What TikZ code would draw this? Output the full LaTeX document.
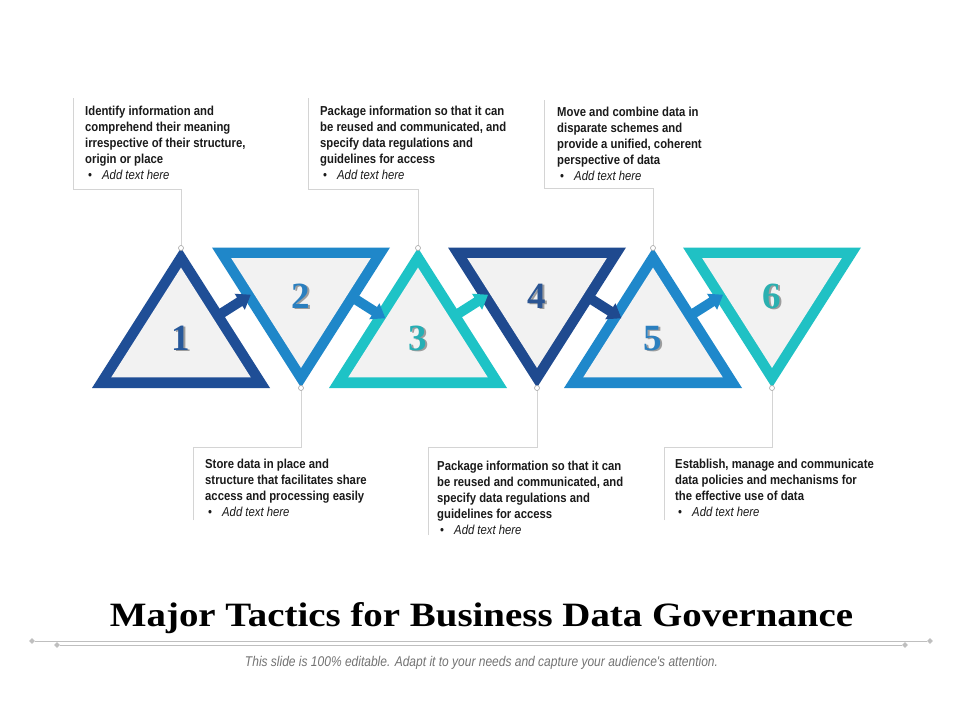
\documentclass[tikz,border=0pt]{standalone}
\usepackage{fontspec}
\usepackage{graphicx}
\usetikzlibrary{shapes.geometric}
\setmainfont{Liberation Sans}
\newfontfamily\narrowfont[FakeStretch=0.87]{Liberation Sans}
\newfontfamily\subfont[FakeStretch=0.85]{Liberation Sans}
\newfontfamily\serifnum{Liberation Serif}
\definecolor{c1}{HTML}{1F4E96}
\definecolor{c2}{HTML}{1F87C9}
\definecolor{c3}{HTML}{1EC3C6}
\definecolor{c4}{HTML}{1F4A8F}
\definecolor{c5}{HTML}{1F88CB}
\definecolor{c6}{HTML}{20C1C4}
\definecolor{n1}{HTML}{27589A}
\definecolor{n2}{HTML}{2A7FBF}
\definecolor{n3}{HTML}{25AFB5}
\definecolor{n4}{HTML}{2B5593}
\definecolor{n5}{HTML}{2B7FBF}
\definecolor{n6}{HTML}{2BB0B0}
\definecolor{innergray}{HTML}{F2F2F2}
\definecolor{calloutgray}{HTML}{D4D4D4}
\definecolor{decogray}{HTML}{BFBFBF}
\definecolor{bodytext}{HTML}{1A1A1A}
\newcommand\bulline{\hspace*{3pt}\makebox[14pt][l]{\mdseries\textbullet}{\mdseries\itshape Add text here}}
\begin{document}
\begin{tikzpicture}[x=1pt,y=-1pt,
  desc/.style={anchor=north west,inner sep=0pt,align=left,text=bodytext,
    font=\fontsize{13}{16}\selectfont\narrowfont\bfseries},
  numtxt/.style={anchor=base,inner sep=0pt,font=\fontsize{37}{40}\selectfont\serifnum\bfseries},
  numshadow/.style={numtxt,text=black,opacity=0.35},
  callout/.style={draw=calloutgray,line width=0.9pt},
  pin/.style={circle,draw=black!35,fill=white,line width=0.6pt,inner sep=0pt,minimum size=5pt},
  deco/.style={draw=decogray,line width=1pt},
  diam/.style={diamond,fill=decogray,inner sep=0pt,minimum size=6pt},
  barrow/.pic={\fill (-2,-5)--(21,-5)--(21,-9.5)--(34,0)--(21,9.5)--(21,5)--(-2,5)--cycle;}
]
\useasboundingbox (0,0) rectangle (960,720);
\fill[white] (0,0) rectangle (960,720);

% ---- triangles (up: 1,3,5 ; down: 2,4,6)
\foreach \cx/\col in {181/c1,418/c3,653/c5}{
  \begin{scope}[shift={(\cx,339.1)}]
    \fill[\col] (-89,48.9) -- (0,-91.1) -- (89,48.9) -- cycle;
    \fill[innergray,scale=0.785] (-89,48.9) -- (0,-91.1) -- (89,48.9) -- cycle;
  \end{scope}
}
\foreach \cx/\col in {301/c2,537/c4,772/c6}{
  \begin{scope}[shift={(\cx,296.4)}]
    \fill[\col] (-89,-48.9) -- (89,-48.9) -- (0,91.1) -- cycle;
    \fill[innergray,scale=0.785] (-89,-48.9) -- (89,-48.9) -- (0,91.1) -- cycle;
  \end{scope}
}

% ---- block arrows between triangles
\pic[color=c1,rotate=32.4] at (222,313) {barrow};
\pic[color=c2,rotate=-32.4] at (356.6,300) {barrow};
\pic[color=c3,rotate=32.4] at (459.3,313) {barrow};
\pic[color=c4,rotate=-32.4] at (592.6,300) {barrow};
\pic[color=c5,rotate=32.4] at (694.3,313) {barrow};

% ---- numbers
\foreach \x/\y/\t/\c in {181/350/1/n1,301/308/2/n2,418/350/3/n3,537/308/4/n4,653/350/5/n5,772/308/6/n6}{
  \node[numshadow] at (\x+1.6,\y+1.8) {\t};
  \node[numtxt,text=\c] (num\t) at (\x,\y) {\t};
}

% ---- apex pins
\coordinate (a1) at (181,248);
\coordinate (a2) at (301,388);
\coordinate (a3) at (418,248);
\coordinate (a4) at (537,388);
\coordinate (a5) at (653,248);
\coordinate (a6) at (772,388);

% ---- callout frames
\coordinate (b1) at (73,98);   \coordinate (k1) at (73,189);
\coordinate (b3) at (308,98);  \coordinate (k3) at (308,189);
\coordinate (b5) at (544,100); \coordinate (k5) at (544,188);
\coordinate (b2) at (193,520); \coordinate (k2) at (193,447);
\coordinate (b4) at (428,535); \coordinate (k4) at (428,447);
\coordinate (b6) at (664,520); \coordinate (k6) at (664,447);
\draw[callout] (b1) -- (k1) -| (a1);
\draw[callout] (b3) -- (k3) -| (a3);
\draw[callout] (b5) -- (k5) -| (a5);
\draw[callout] (b2) -- (k2) -| (a2);
\draw[callout] (b4) -- (k4) -| (a4);
\draw[callout] (b6) -- (k6) -| (a6);
\foreach \p in {a1,a2,a3,a4,a5,a6}{ \node[pin] (pin\p) at (\p) {}; }

% ---- texts
\node[desc] (d1) at (85,106) {Identify information and\\comprehend their meaning\\irrespective of their structure,\\origin or place\\\bulline};
\node[desc] (d3) at (320,106) {Package information so that it can\\be reused and communicated, and\\specify data regulations and\\guidelines for access\\\bulline};
\node[desc] (d5) at (557,107) {Move and combine data in\\disparate schemes and\\provide a unified, coherent\\perspective of data\\\bulline};
\node[desc] (d2) at (205,459) {Store data in place and\\structure that facilitates share\\access and processing easily\\\bulline};
\node[desc] (d4) at (437,461) {Package information so that it can\\be reused and communicated, and\\specify data regulations and\\guidelines for access\\\bulline};
\node[desc] (d6) at (675,459) {Establish, manage and communicate\\data policies and mechanisms for\\the effective use of data\\\bulline};

% ---- title
\node[anchor=base,inner sep=0pt,text=black] (title) at (481.5,626)
  {\resizebox{743pt}{24pt}{\serifnum\bfseries Major Tactics for Business Data Governance}};

% ---- decorative rules
\node[diam] (dl1) at (32,641) {};
\node[diam] (dr1) at (930,641) {};
\node[diam] (dl2) at (57,645) {};
\node[diam] (dr2) at (905,645) {};
\draw[deco] (dl1) -- (dr1);
\draw[deco] (dl2) -- (dr2);

% ---- subtitle
\node[anchor=base,inner sep=0pt,text=black!55] (sub) at (481.5,666)
  {\resizebox{473pt}{!}{\fontsize{12}{14}\selectfont\subfont\itshape This slide is 100\% editable. Adapt it to your needs and capture your audience's attention.}};
\end{tikzpicture}
\end{document}
